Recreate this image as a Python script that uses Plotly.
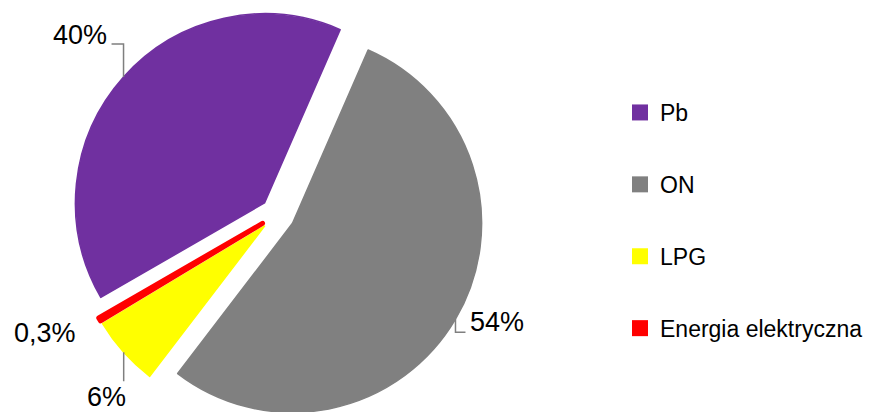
import math
import plotly.graph_objects as go

# Fuel shares
categories = ["Pb", "ON", "LPG", "Energia elektryczna"]
shares = [40, 54, 6, 0.3]
share_labels = ["40%", "54%", "6%", "0,3%"]
colors = ["#7030A0", "#808080", "#FFFF00", "#FF0000"]

W = 869
TOP = 8           # top margin so the pie sits slightly low, as drawn
FH = 421          # figure height; the pie's bottom edge runs to the frame
PLOT_H = FH - TOP
FONT = "Liberation Sans, Arial, sans-serif"
PULL = 0.092
ROTATION = 240
DOMAIN_X = [0.0, 0.6387]

fig = go.Figure()
fig.add_trace(go.Pie(
    labels=categories,
    values=shares,
    sort=False,
    direction="clockwise",
    rotation=ROTATION,
    pull=PULL,
    marker=dict(colors=colors, line=dict(color=colors, width=[1.5, 1.5, 1.5, 5])),
    textinfo="none",
    hoverinfo="label+percent",
    showlegend=False,
    domain=dict(x=DOMAIN_X, y=[0, 1]),
))

# Legend entries with larger square swatches, one group each for spacing
for name, col in zip(categories, colors):
    fig.add_trace(go.Scatter(
        x=[None], y=[None], mode="markers", name=name,
        legendgroup=name,
        marker=dict(symbol="square", size=16, color=col, line=dict(width=0)),
        hoverinfo="skip",
    ))

# Pie geometry in pixels (same rule plotly uses to size a pulled pie)
cx = W * (DOMAIN_X[0] + DOMAIN_X[1]) / 2
cy = TOP + PLOT_H / 2
r = min(W * (DOMAIN_X[1] - DOMAIN_X[0]), PLOT_H) / 2 / (1 + PULL)
d = PULL * r
total = sum(shares)


def mid_angle(i):
    start = ROTATION + 360 * sum(shares[:i]) / total
    return math.radians(start + 180 * shares[i] / total)


def arc_mid(i):
    a = mid_angle(i)
    return cx + (r + d) * math.sin(a), cy - (r + d) * math.cos(a)


def px(x, y):
    """Pixel position -> paper coordinates of the plot area."""
    return x / W, 1 - (y - TOP) / PLOT_H


# Label layout: leader line path (offsets from arc midpoint) and text anchor
label_specs = [
    dict(path=[(0, 0), (0, -33), (-12, -33)], text=(-15, -42), xanchor="right"),
    dict(path=[(0, 0), (0, 13), (10, 13)], text=(13, 3), xanchor="left"),
    dict(path=[(0, 0), (0, 29)], text=(4, 45), xanchor="right"),
    dict(path=None, text=(-22, 14), xanchor="right"),
]

shapes = []
annotations = []
for i, spec in enumerate(label_specs):
    ax, ay = arc_mid(i)
    if spec["path"]:
        pts = [px(ax + dx, ay + dy) for dx, dy in spec["path"]]
        path = "M " + " L ".join(f"{x:.5f},{y:.5f}" for x, y in pts)
        shapes.append(dict(type="path", xref="paper", yref="paper", path=path,
                           line=dict(color="#7F7F7F", width=1.5)))
    tx, ty = px(ax + spec["text"][0], ay + spec["text"][1])
    annotations.append(dict(
        x=tx, y=ty, xref="paper", yref="paper", text=share_labels[i],
        showarrow=False, xanchor=spec["xanchor"], yanchor="middle",
        font=dict(family=FONT, size=27, color="#000000"),
    ))

lx, ly = px(620, 91)
fig.update_layout(
    width=W, height=FH,
    margin=dict(l=0, r=0, t=TOP, b=0),
    paper_bgcolor="white", plot_bgcolor="white",
    xaxis=dict(visible=False), yaxis=dict(visible=False),
    shapes=shapes,
    annotations=annotations,
    legend=dict(
        x=lx, y=ly, xanchor="left", yanchor="top",
        font=dict(family=FONT, size=23, color="#000000"),
        tracegroupgap=39, traceorder="grouped",
        bgcolor="rgba(0,0,0,0)", borderwidth=0,
        itemclick=False, itemdoubleclick=False,
    ),
    showlegend=True,
)

fig.write_html("out.html")
